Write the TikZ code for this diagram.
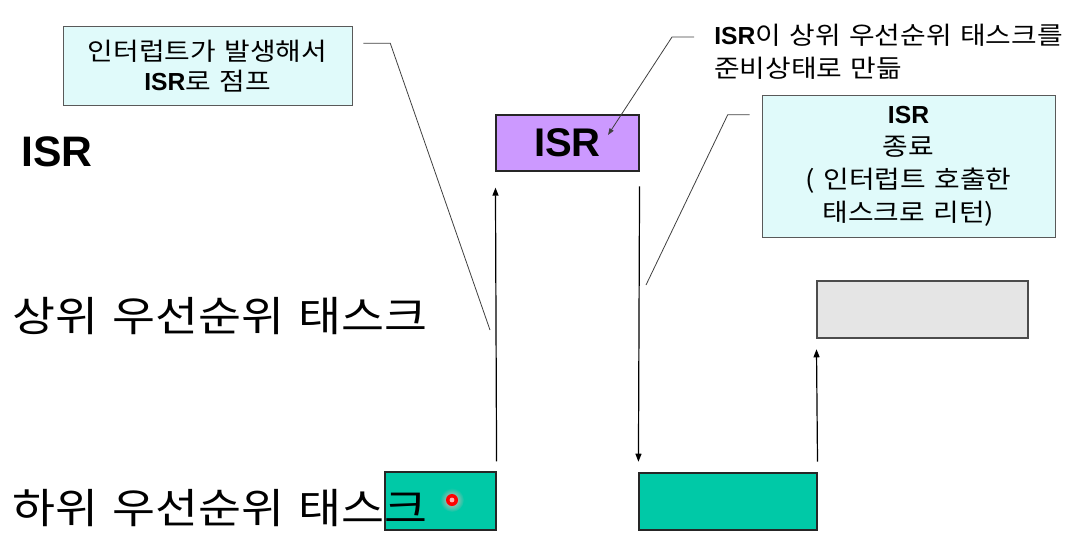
\documentclass[tikz,border=0pt]{standalone}
\usepackage{fontspec}
\setmainfont[FakeStretch=1.13, WordSpace=1.35]{Noto Sans CJK KR}
\newfontfamily\arialfont{Liberation Sans}
\newcommand\isrword{{\arialfont\bfseries ISR}}
\usetikzlibrary{arrows.meta}
\definecolor{notefill}{RGB}{224,250,250}
\definecolor{isrfill}{RGB}{204,153,255}
\definecolor{taskfill}{RGB}{0,201,167}
\definecolor{readyfill}{RGB}{229,229,229}
\begin{document}
\begin{tikzpicture}[
		x=0.75pt, y=-0.75pt,
		note/.style={draw=black!65, fill=notefill, align=center, font=\fontsize{18.5}{24.5}\selectfont},
		taskbox/.style={draw=black!85, line width=0.9pt},
		rowlbl/.style={anchor=west, inner sep=0pt, font=\fontsize{31}{36}\selectfont},
		flow/.style={-{Triangle[length=6pt,width=4.5pt]}, line width=0.9pt},
		leader/.style={draw=black!75, line width=0.6pt}
	]
	\useasboundingbox (0,0) rectangle (1068,550);
	\node[note, minimum width=216.75pt, minimum height=59.25pt, font=\fontsize{18.5}{22.5}\selectfont] (noteA) at (207.5,66) {인터럽트가 발생해서\\\isrword 로 점프};
	\node[note, minimum width=219.75pt, minimum height=106.5pt] (noteC) at (908.5,166) {\isrword\\종료\\( 인터럽트 호출한\\태스크로 리턴)};
	\node[anchor=north west, inner sep=0pt, align=left, font=\fontsize{18.5}{24.75}\selectfont] (noteB) at (714,24) {\isrword 이 상위 우선순위 태스크를\\준비상태로 만듦};
	\node[taskbox, fill=isrfill, minimum width=107.25pt, minimum height=42pt, font=\fontsize{30}{32}\selectfont] (isrbox) at (567.5,143) {\isrword};
	\node[taskbox, fill=taskfill, minimum width=83.25pt, minimum height=43.5pt] (lowA) at (440.5,501) {};
	\node[taskbox, fill=taskfill, minimum width=133.5pt, minimum height=42.75pt] (lowB) at (728,501.5) {};
	\node[taskbox, draw=black!70, fill=readyfill, minimum width=158.25pt, minimum height=42.75pt] (hibox) at (922.5,309.5) {};
	\node[rowlbl, font=\fontsize{32}{36}\arialfont\bfseries] (isrlbl) at (21,152) {ISR};
	\node[rowlbl] (hilbl) at (12,316) {상위 우선순위 태스크};
	\node[rowlbl] (lolbl) at (12,508) {하위 우선순위 태스크};
	\shade[inner color=red!30!white, outer color=taskfill] (452,500) circle (9pt);
	\fill[red] (452,500) circle (4.5pt);
	\fill[red!30!white] (452,500) circle (1.8pt);
	\draw[flow, shorten <=7.5pt, shorten >=12pt] (lowA.north east) -- (isrbox.south west);
	\draw[flow, shorten <=11pt, shorten >=8pt] (isrbox.south east) -- (lowB.north west);
	\draw[flow, shorten <=8pt, shorten >=8pt] (lowB.north east) -- (hibox.south west);
	\coordinate (tipA) at (490,330);
	\coordinate (tipB) at (608,135);
	\coordinate (tipC) at (646,285);
	\draw[leader] ([shift={(11,17)}]noteA.north east) -- ++(27,0) -- (tipA);
	\draw[leader, -{Triangle[length=5pt,width=3.5pt]}] ([shift={(-20,13)}]noteB.north west) -- ++(-22,0) -- (tipB);
	\draw[leader] ([shift={(-12,20)}]noteC.north west) -- ++(-22,0) -- (tipC);
\end{tikzpicture}
\end{document}
